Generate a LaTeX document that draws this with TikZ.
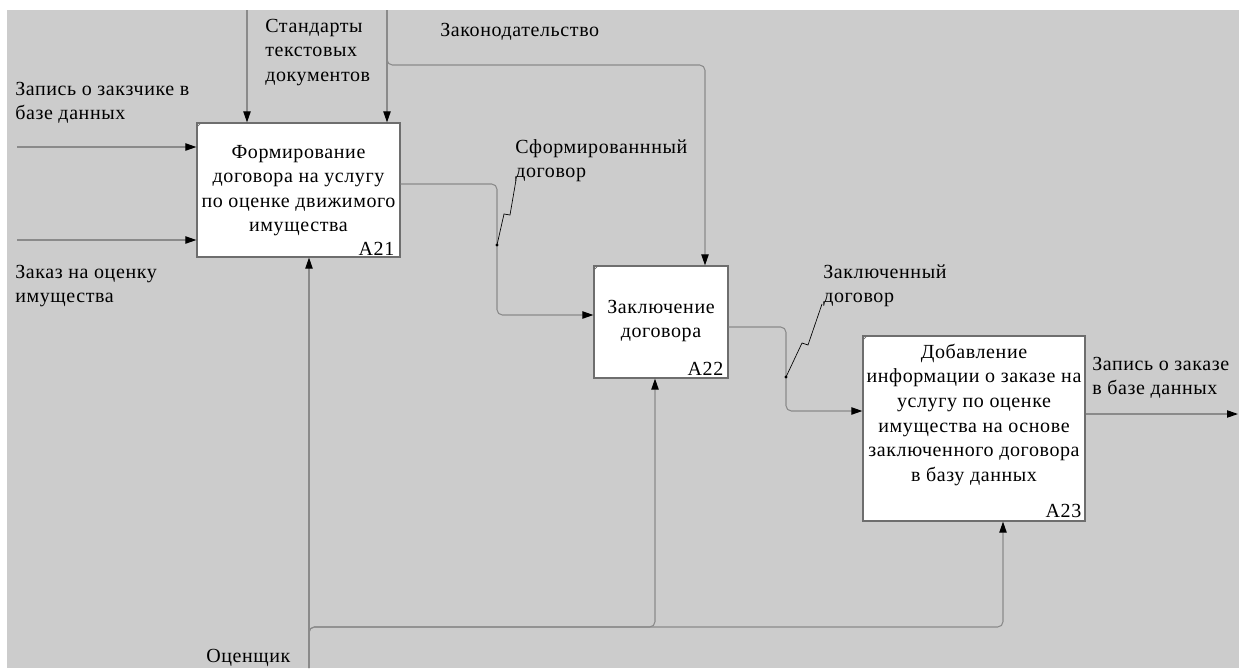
\documentclass[tikz,border=0pt]{standalone}
\usepackage{fontspec}
\setmainfont{Liberation Serif}[LetterSpace=3]
\usetikzlibrary{arrows.meta,calc}
\definecolor{bg}{HTML}{CCCCCC}
\definecolor{lc}{HTML}{8A8A8A}
\definecolor{bx}{HTML}{6E6E6E}
\tikzset{
  fnt/.style={font=\fontsize{15}{18.4}\selectfont},
  lbl/.style={fnt, inner sep=0, anchor=north west, align=left},
  btxt/.style={fnt, inner sep=0, anchor=north, align=center},
  num/.style={fnt, inner sep=0, anchor=base east},
  box/.style={draw=bx, fill=white, line width=0.9pt, inner sep=0},
  arr/.style={draw=lc, line width=0.8pt, rounded corners=4pt, -{Triangle[length=8.25pt,width=5.5pt,color=black]}},
  zz/.style={draw=black, line width=0.5pt},
  corner/.style={draw=bx, line width=0.5pt},
}
\begin{document}
\begin{tikzpicture}[x=0.75pt,y=-0.75pt]
\useasboundingbox (0,0) rectangle (1243,668);
\fill[white] (0,0) rectangle (1243,668);
\fill[bg] (7,10) rectangle (1239,668);

% boxes
\node[box, minimum width=203*0.75pt, minimum height=134*0.75pt] (a21) at (298.5,190) {};
\node[box, minimum width=134*0.75pt, minimum height=112*0.75pt] (a22) at (661,322) {};
\node[box, minimum width=222*0.75pt, minimum height=185*0.75pt] (a23) at (974,428.5) {};
\draw[corner] ($(a21.north west)+(0,5)$) -- ++(5,-5);
\draw[corner] ($(a22.north west)+(0,5)$) -- ++(5,-5);
\draw[corner] ($(a23.north west)+(0,5)$) -- ++(5,-5);

\node[btxt] (t21) at (298.5,140.8) {\strut Формирование\\договора на услугу\\по оценке движимого\\имущества};
\node[btxt] (t22) at (661,296) {\strut Заключение\\договора};
\node[btxt] (t23) at (974,341) {\strut Добавление\\информации о заказе на\\услугу по оценке\\имущества на основе\\заключенного договора\\в базу данных};
\node[num] (n21) at ($(a21.south east)+(-6,-2)$) {A21};
\node[num] (n22) at ($(a22.south east)+(-5,-3)$) {A22};
\node[num] (n23) at ($(a23.south east)+(-4,-4)$) {A23};

% labels
\node[lbl] (l1) at (15,77.8) {\strut Запись о закзчике в\\базе данных};
\node[lbl] (l2) at (15,260.8) {\strut Заказ на оценку\\имущества};
\node[lbl] (l3) at (265,14.8) {\strut Стандарты\\текстовых\\документов};
\node[lbl] (l4) at (440,18.8) {\strut Законодательство};
\node[lbl] (l5) at (515,135.8) {\strut Сформированнный\\договор};
\node[lbl] (l6) at (823,260.8) {\strut Заключенный\\договор};
\node[lbl] (l7) at (1092,352.8) {\strut Запись о заказе\\в базе данных};
\node[lbl] (l8) at (206,644.8) {\strut Оценщик};

% inputs
\coordinate (i1) at (17,147);
\coordinate (i2) at (17,240);
\draw[arr] (i1) -- (i1 -| a21.west);
\draw[arr] (i2) -- (i2 -| a21.west);

% controls
\coordinate (c1) at (247,10);
\coordinate (c2) at (387,10);
\coordinate (c2b) at (705,65);
\draw[arr] (c1) -- (c1 |- a21.north);
\draw[arr] (c2) -- (c2 |- a21.north);
\draw[arr] (c2) -- (c2 |- c2b) -- (c2b) -- (c2b |- a22.north);

% outputs
\coordinate (o1) at (497,184);
\coordinate (o1b) at (497,315);
\draw[arr] (o1 -| a21.east) -- (o1) -- (o1b) -- (o1b -| a22.west);
\coordinate (d1) at (497,245);
\fill (d1) circle[radius=1.2pt];
\draw[zz] (d1) -- ++(7,-31) -- ++(6,1) -- ++(6,-35);

\coordinate (o2) at (786,327);
\coordinate (o2b) at (786,411);
\draw[arr] (o2 -| a22.east) -- (o2) -- (o2b) -- (o2b -| a23.west);
\coordinate (d2) at (786,377);
\fill (d2) circle[radius=1.2pt];
\draw[zz] (d2) -- ++(16,-34) -- ++(6,2) -- ++(14,-41);

\coordinate (o3) at (1238,414);
\draw[arr] (o3 -| a23.east) -- (o3);

% mechanisms
\coordinate (m) at (309,668);
\coordinate (mh) at (309,627);
\coordinate (m2) at (655,627);
\coordinate (m3) at (1003,627);
\draw[arr] (m) -- (m |- a21.south);
\draw[arr] (m) -- (mh) -- (m2) -- (m2 |- a22.south);
\draw[arr] (m) -- (mh) -- (m3) -- (m3 |- a23.south);
\end{tikzpicture}
\end{document}
